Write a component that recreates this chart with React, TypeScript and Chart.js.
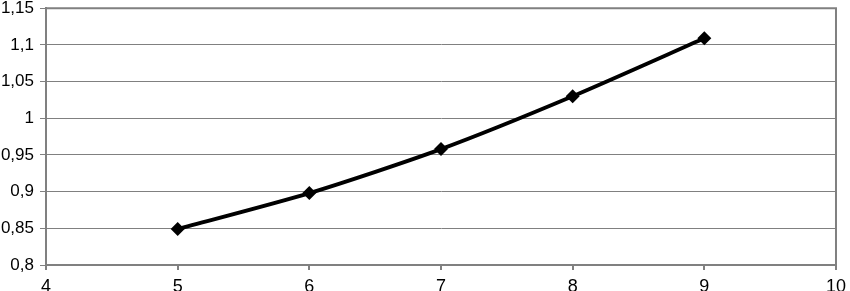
import React, { useEffect, useRef } from "react";
import { Chart, registerables } from "chart.js";

Chart.register(...registerables);

const xValues = [5, 6, 7, 8, 9];
const yValues = [0.849, 0.898, 0.958, 1.03, 1.109];

const fmt = (v: number) => Number(Number(v).toFixed(2)).toString().replace(".", ",");

const borderPlugin = {
  id: "plotBorder",
  afterDraw(chart: any) {
    const { ctx, chartArea } = chart;
    ctx.save();
    ctx.strokeStyle = "#808080";
    ctx.lineWidth = 2;
    ctx.beginPath();
    ctx.moveTo(chartArea.left, chartArea.top);
    ctx.lineTo(chartArea.right, chartArea.top);
    ctx.lineTo(chartArea.right, chartArea.bottom);
    ctx.stroke();
    ctx.restore();
  },
};

export default function App() {
  const ref = useRef<HTMLCanvasElement>(null);
  useEffect(() => {
    document.body.style.margin = "0";
    const chart = new Chart(ref.current!, {
      type: "line",
      data: {
        datasets: [
          {
            data: xValues.map((x, i) => ({ x, y: yValues[i] })),
            borderColor: "#000",
            backgroundColor: "#000",
            borderWidth: 4,
            tension: 0.25,
            pointStyle: "rectRot",
            pointRadius: 7,
            pointBorderWidth: 0,
          },
        ],
      },
      plugins: [borderPlugin],
      options: {
        animation: false,
        responsive: false,
        layout: { padding: { top: 0, right: 0, left: 0, bottom: 0 } },
        plugins: { legend: { display: false }, tooltip: { enabled: false } },
        scales: {
          x: {
            type: "linear",
            min: 4,
            max: 10,
            ticks: {
              stepSize: 1,
              color: "#000",
              font: { family: "'Liberation Sans', Arial, sans-serif", size: 18 },
              padding: 6,
              maxRotation: 0,
            },
            grid: {
              drawOnChartArea: false,
              drawTicks: true,
              tickLength: 5,
              color: "#808080",
              lineWidth: 2,
            },
            border: { color: "#808080", width: 2 },
            afterFit: (s: any) => {
              s.height = 34;
            },
          },
          y: {
            min: 0.8,
            max: 1.15,
            ticks: {
              stepSize: 0.05,
              color: "#000",
              font: { family: "'Liberation Sans', Arial, sans-serif", size: 17 },
              padding: 6,
              callback: (v: any) => fmt(v),
            },
            grid: {
              color: "#808080",
              lineWidth: 1,
              drawTicks: true,
              tickLength: 6,
            },
            border: { color: "#808080", width: 2 },
            afterFit: (s: any) => {
              s.width = 46;
            },
          },
        },
      },
    });
    return () => chart.destroy();
  }, []);
  return (
    <div style={{ width: 850, height: 291, overflow: "hidden" }}>
      <canvas ref={ref} width={852} height={307} style={{ display: "block", marginTop: -8 }} />
    </div>
  );
}
